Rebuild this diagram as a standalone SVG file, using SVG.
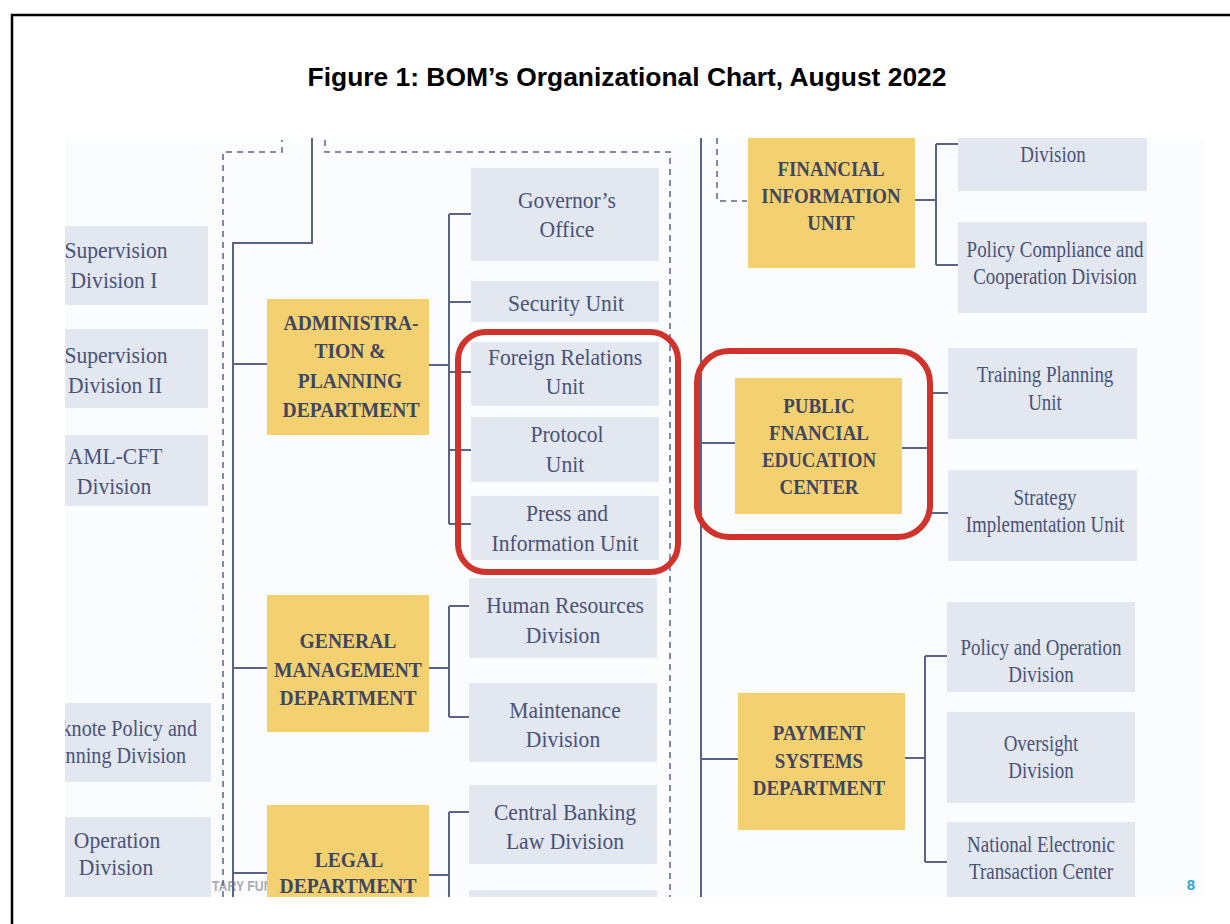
<svg xmlns="http://www.w3.org/2000/svg" width="1230" height="924" viewBox="0 0 1230 924">
<style>
.g{fill:#e2e7f0}
.y{fill:#f4d170}
.r{font-family:"Liberation Serif","Times New Roman",serif;font-size:24px;fill:#4a5277;text-anchor:middle}
.b{font-family:"Liberation Serif","Times New Roman",serif;font-size:22px;font-weight:bold;fill:#3e4660;text-anchor:middle}
.ln{fill:none;stroke:#5b6389;stroke-width:2}
.ds{fill:none;stroke:#5b6389;stroke-width:1.5;stroke-dasharray:6 5}
.red{fill:none;stroke:#d0332b;stroke-width:6}
</style>
<defs>
<clipPath id="crop"><rect x="65" y="138" width="1140" height="759"/></clipPath>
</defs>
<rect width="1230" height="924" fill="#ffffff"/>
<path d="M12 924 V15 H1230" fill="none" stroke="#000" stroke-width="2.5"/>
<text x="627" y="86" font-family="'Liberation Sans',Arial,sans-serif" font-size="26.4" font-weight="bold" text-anchor="middle" fill="#000">Figure 1: BOM’s Organizational Chart, August 2022</text>
<g clip-path="url(#crop)">
<rect x="65" y="138" width="1140" height="759" fill="#fbfcfd"/>
<text transform="translate(212 891) scale(.85 1)" font-family="'Liberation Sans',Arial,sans-serif" font-size="14.5" font-weight="bold" fill="#a8acb4">TARY FUN</text>
<g id="connectors">
<path class="ln" d="M312 138 V243 H233 V897"/>
<path class="ln" d="M233 364 H267 M429 365 H449 M449 214 V524 M449 214 H471 M449 302 H471 M449 372 H471 M449 450 H471 M449 524 H471"/>
<path class="ln" d="M233 668 H267 M429 668 H449 M449 606 V717 M449 606 H469 M449 717 H469"/>
<path class="ln" d="M233 873 H267 M429 875 H449 M449 812 V897 M449 812 H469"/>
<path class="ln" d="M701 138 V897"/>
<path class="ln" d="M915 200 H936 M936 144 V265 M936 144 H958 M936 265 H958"/>
<path class="ln" d="M701 443 H735 M902 448 H930 M930 393 V513 M930 393 H948 M930 513 H948"/>
<path class="ln" d="M701 759 H738 M905 758 H925 M925 656 V862 M925 656 H947 M925 862 H947"/>
<path class="ds" d="M223 897 V152 H282 V140"/>
<path class="ds" d="M325 140 V152 H670 V897"/>
<path class="ds" d="M717 138 V201 H747"/>
</g>
<g id="sup1"><rect class="g" x="65" y="226" width="143" height="79"/>
<text class="r" transform="translate(116 258) scale(.9 1)">Supervision</text>
<text class="r" transform="translate(114 288) scale(.9 1)">Division I</text></g>
<g id="sup2"><rect class="g" x="65" y="329" width="143" height="79"/>
<text class="r" transform="translate(116 363) scale(.9 1)">Supervision</text>
<text class="r" transform="translate(115 393) scale(.9 1)">Division II</text></g>
<g id="aml"><rect class="g" x="65" y="435" width="143" height="71"/>
<text class="r" transform="translate(115 464) scale(.9 1)">AML-CFT</text>
<text class="r" transform="translate(114 494) scale(.9 1)">Division</text></g>
<g id="banknote"><rect class="g" x="65" y="703" width="146" height="79"/>
<text class="r" style="text-anchor:end" transform="translate(197 736) scale(.84 1)">Banknote Policy and</text>
<text class="r" style="text-anchor:end" transform="translate(186 763) scale(.84 1)">Planning Division</text></g>
<g id="operation"><rect class="g" x="65" y="817" width="146" height="80"/>
<text class="r" transform="translate(117 848) scale(.9 1)">Operation</text>
<text class="r" transform="translate(116 875) scale(.9 1)">Division</text></g>
<g id="admin"><rect class="y" x="267" y="299" width="162" height="136"/>
<text class="b" transform="translate(351 330) scale(.89 1)">ADMINISTRA-</text>
<text class="b" transform="translate(350 358) scale(.89 1)">TION &amp;</text>
<text class="b" transform="translate(350 388) scale(.89 1)">PLANNING</text>
<text class="b" transform="translate(351 417) scale(.89 1)">DEPARTMENT</text></g>
<g id="genman"><rect class="y" x="267" y="595" width="162" height="137"/>
<text class="b" transform="translate(348 648) scale(.89 1)">GENERAL</text>
<text class="b" transform="translate(348 677) scale(.89 1)">MANAGEMENT</text>
<text class="b" transform="translate(348 705) scale(.89 1)">DEPARTMENT</text></g>
<g id="legal"><rect class="y" x="267" y="805" width="162" height="92"/>
<text class="b" transform="translate(349 867) scale(.89 1)">LEGAL</text>
<text class="b" transform="translate(348 893) scale(.89 1)">DEPARTMENT</text></g>
<g id="governor"><rect class="g" x="471" y="168" width="188" height="93"/>
<text class="r" transform="translate(567 208) scale(.9 1)">Governor’s</text>
<text class="r" transform="translate(567 237) scale(.9 1)">Office</text></g>
<g id="security"><rect class="g" x="471" y="281" width="188" height="41"/>
<text class="r" transform="translate(566 311) scale(.9 1)">Security Unit</text></g>
<g id="foreign"><rect class="g" x="471" y="342" width="188" height="64"/>
<text class="r" transform="translate(565 365) scale(.9 1)">Foreign Relations</text>
<text class="r" transform="translate(565 394) scale(.9 1)">Unit</text></g>
<g id="protocol"><rect class="g" x="471" y="417" width="188" height="65"/>
<text class="r" transform="translate(567 442) scale(.9 1)">Protocol</text>
<text class="r" transform="translate(565 472) scale(.9 1)">Unit</text></g>
<g id="press"><rect class="g" x="471" y="496" width="188" height="64"/>
<text class="r" transform="translate(567 521) scale(.9 1)">Press and</text>
<text class="r" transform="translate(565 551) scale(.9 1)">Information Unit</text></g>
<g id="hr"><rect class="g" x="469" y="578" width="188" height="80"/>
<text class="r" transform="translate(565 613) scale(.9 1)">Human Resources</text>
<text class="r" transform="translate(563 643) scale(.9 1)">Division</text></g>
<g id="maintenance"><rect class="g" x="469" y="683" width="188" height="79"/>
<text class="r" transform="translate(565 718) scale(.9 1)">Maintenance</text>
<text class="r" transform="translate(563 747) scale(.9 1)">Division</text></g>
<g id="cbl"><rect class="g" x="469" y="785" width="188" height="79"/>
<text class="r" transform="translate(565 820) scale(.9 1)">Central Banking</text>
<text class="r" transform="translate(565 849) scale(.9 1)">Law Division</text></g>
<g id="legal2"><rect class="g" x="469" y="890" width="188" height="7"/></g>
<g id="fiu"><rect class="y" x="748" y="130" width="167" height="138"/>
<text class="b" transform="translate(831 176) scale(.86 1)">FINANCIAL</text>
<text class="b" transform="translate(831 203) scale(.86 1)">INFORMATION</text>
<text class="b" transform="translate(831 230) scale(.86 1)">UNIT</text></g>
<g id="fiudiv"><rect class="g" x="958" y="130" width="189" height="61"/>
<text class="r" transform="translate(1053 162) scale(.79 1)">Division</text></g>
<g id="pcc"><rect class="g" x="958" y="222" width="189" height="91"/>
<text class="r" transform="translate(1055 257) scale(.79 1)">Policy Compliance and</text>
<text class="r" transform="translate(1055 284) scale(.79 1)">Cooperation Division</text></g>
<g id="pfec"><rect class="y" x="735" y="378" width="167" height="136"/>
<text class="b" transform="translate(819 413) scale(.86 1)">PUBLIC</text>
<text class="b" transform="translate(819 440) scale(.86 1)">FNANCIAL</text>
<text class="b" transform="translate(819 467) scale(.86 1)">EDUCATION</text>
<text class="b" transform="translate(819 494) scale(.86 1)">CENTER</text></g>
<g id="training"><rect class="g" x="948" y="348" width="189" height="91"/>
<text class="r" transform="translate(1045 382) scale(.79 1)">Training Planning</text>
<text class="r" transform="translate(1045 410) scale(.79 1)">Unit</text></g>
<g id="strategy"><rect class="g" x="948" y="470" width="189" height="91"/>
<text class="r" transform="translate(1045 505) scale(.79 1)">Strategy</text>
<text class="r" transform="translate(1045 532) scale(.79 1)">Implementation Unit</text></g>
<g id="psd"><rect class="y" x="738" y="693" width="167" height="137"/>
<text class="b" transform="translate(819 740) scale(.86 1)">PAYMENT</text>
<text class="b" transform="translate(819 768) scale(.86 1)">SYSTEMS</text>
<text class="b" transform="translate(819 795) scale(.86 1)">DEPARTMENT</text></g>
<g id="pod"><rect class="g" x="947" y="602" width="188" height="90"/>
<text class="r" transform="translate(1041 655) scale(.79 1)">Policy and Operation</text>
<text class="r" transform="translate(1041 682) scale(.79 1)">Division</text></g>
<g id="oversight"><rect class="g" x="947" y="712" width="188" height="91"/>
<text class="r" transform="translate(1041 751) scale(.79 1)">Oversight</text>
<text class="r" transform="translate(1041 778) scale(.79 1)">Division</text></g>
<g id="netc"><rect class="g" x="947" y="822" width="188" height="80"/>
<text class="r" transform="translate(1041 852) scale(.79 1)">National Electronic</text>
<text class="r" transform="translate(1041 879) scale(.79 1)">Transaction Center</text></g>
<g id="highlights">
<rect class="red" x="458" y="332" width="220" height="240" rx="28"/>
<rect class="red" x="697" y="351" width="233" height="186" rx="32"/>
</g>
<text x="1191" y="890" font-family="'Liberation Sans',Arial,sans-serif" font-size="15" font-weight="bold" text-anchor="middle" fill="#2aa5d8">8</text>
</g>
</svg>
